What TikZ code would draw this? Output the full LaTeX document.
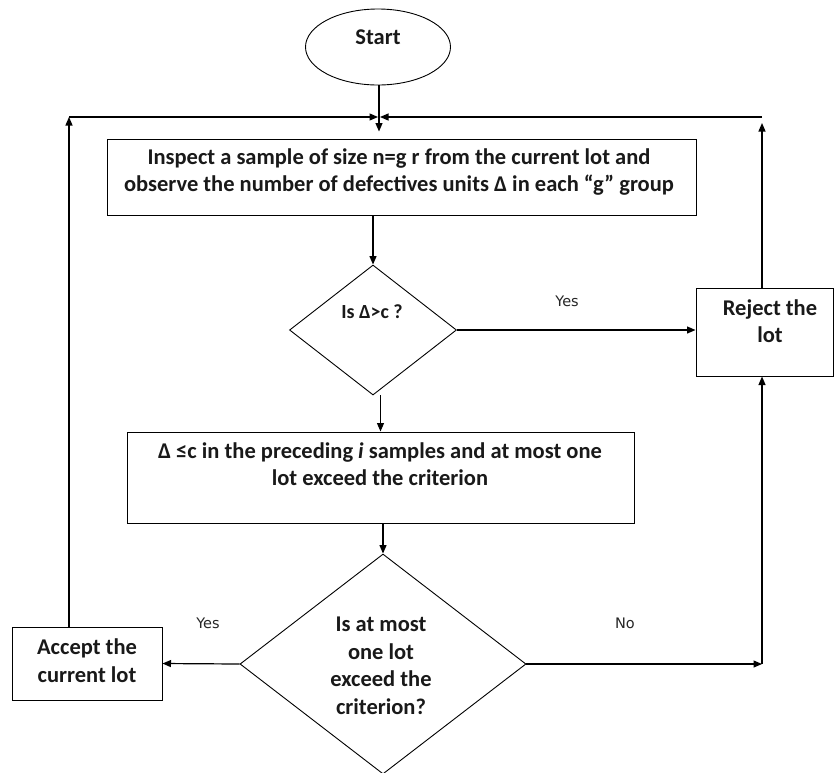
\documentclass[tikz,border=0pt]{standalone}
\usepackage{fontspec}
\setmainfont{Carlito}
\newfontfamily\yesfont{DejaVu Sans}
\usetikzlibrary{shapes.geometric,arrows.meta,calc}
\begin{document}
\begin{tikzpicture}[x=1pt,y=-1pt,
  shapebox/.style={draw,line width=1pt,inner sep=0pt,rectangle},
  dia/.style={draw,line width=0.9pt,diamond,inner sep=0pt},
  oval/.style={draw,line width=0.9pt,ellipse,inner sep=0pt},
  txt/.style={font=\fontsize{22.5}{27.5}\selectfont\bfseries,align=center,inner sep=0pt,text=black!90},
  smalltxt/.style={font=\fontsize{20}{24}\selectfont\bfseries,align=center,inner sep=0pt,text=black!90},
  lbl/.style={font=\yesfont\fontsize{14.5}{16}\selectfont,inner sep=0pt,text=black!85},
  arr/.style={line width=1.2pt,-{Triangle[length=8.5pt,width=7pt]}}]
\useasboundingbox (0,0) rectangle (834,772);
% shapes
\node[oval, minimum width=145pt, minimum height=76pt] (start) at (378,47) {};
\node[shapebox, minimum width=589pt, minimum height=76pt] (box1) at (401.5,177) {};
\node[dia, minimum width=167pt, minimum height=130pt] (d1) at (373,330) {};
\node[shapebox, minimum width=507pt, minimum height=91pt] (box2) at (380.5,477.5) {};
\node[dia, minimum width=286pt, minimum height=220pt] (d2) at (383,664) {};
\node[shapebox, minimum width=150pt, minimum height=73pt] (accept) at (87,663.5) {};
\node[shapebox, minimum width=137pt, minimum height=88pt] (reject) at (764.5,332) {};
% texts
\node[txt] (tstart) at (378,37) {Start};
\node[txt] (t1) at (399,172) {Inspect a sample of size n=g r from the current lot and\\observe the number of defectives units Δ in each “g” group};
\node[smalltxt] (td1) at (372,312) {Is Δ>c ?};
\node[txt] (t2) at (380,464) {Δ ≤c in the preceding \textit{i} samples and at most one\\lot exceed the criterion};
\node[txt] (td2) at (381,666) {Is at most\\one lot\\exceed the\\criterion?};
\node[txt] (tacc) at (87,660.5) {Accept the\\current lot};
\node[txt] (trej) at (770,321) {Reject the\\lot};
\node[lbl] (yes1) at (567,301) {Yes};
\node[lbl] (yes2) at (208,623) {Yes};
\node[lbl] (no) at (625,623) {No};
% coordinates
\coordinate (tl) at (69,117);
\coordinate (tr) at (762,117);
\coordinate (j) at (379,117);
\coordinate (cr) at (762,664);
% connectors
\draw[arr, shorten >=7pt] (start.south -| j) -- (box1.north -| j);
\draw[arr] (accept.north -| tl) -- (tl);
\draw[arr] (tl) -- ([xshift=-1pt]j);
\draw[arr] (tr) -- ([xshift=1pt]j);
\draw[arr, shorten >=6pt] (reject.north -| tr) -- (tr);
\draw[arr] (box1.south -| d1.north) -- (d1.north);
\draw[arr] (d1.east) -- (d1.east -| reject.west);
\draw[arr] (box2.north |- d1.south) -- (box2.north);
\draw[arr] (d2.north |- box2.south) -- (d2.north);
\draw[arr] (d2.west) -- (accept.east);
\draw[arr] (d2.east) -- (cr);
\draw[arr] (cr) -- (cr |- reject.south);
\end{tikzpicture}
\end{document}
